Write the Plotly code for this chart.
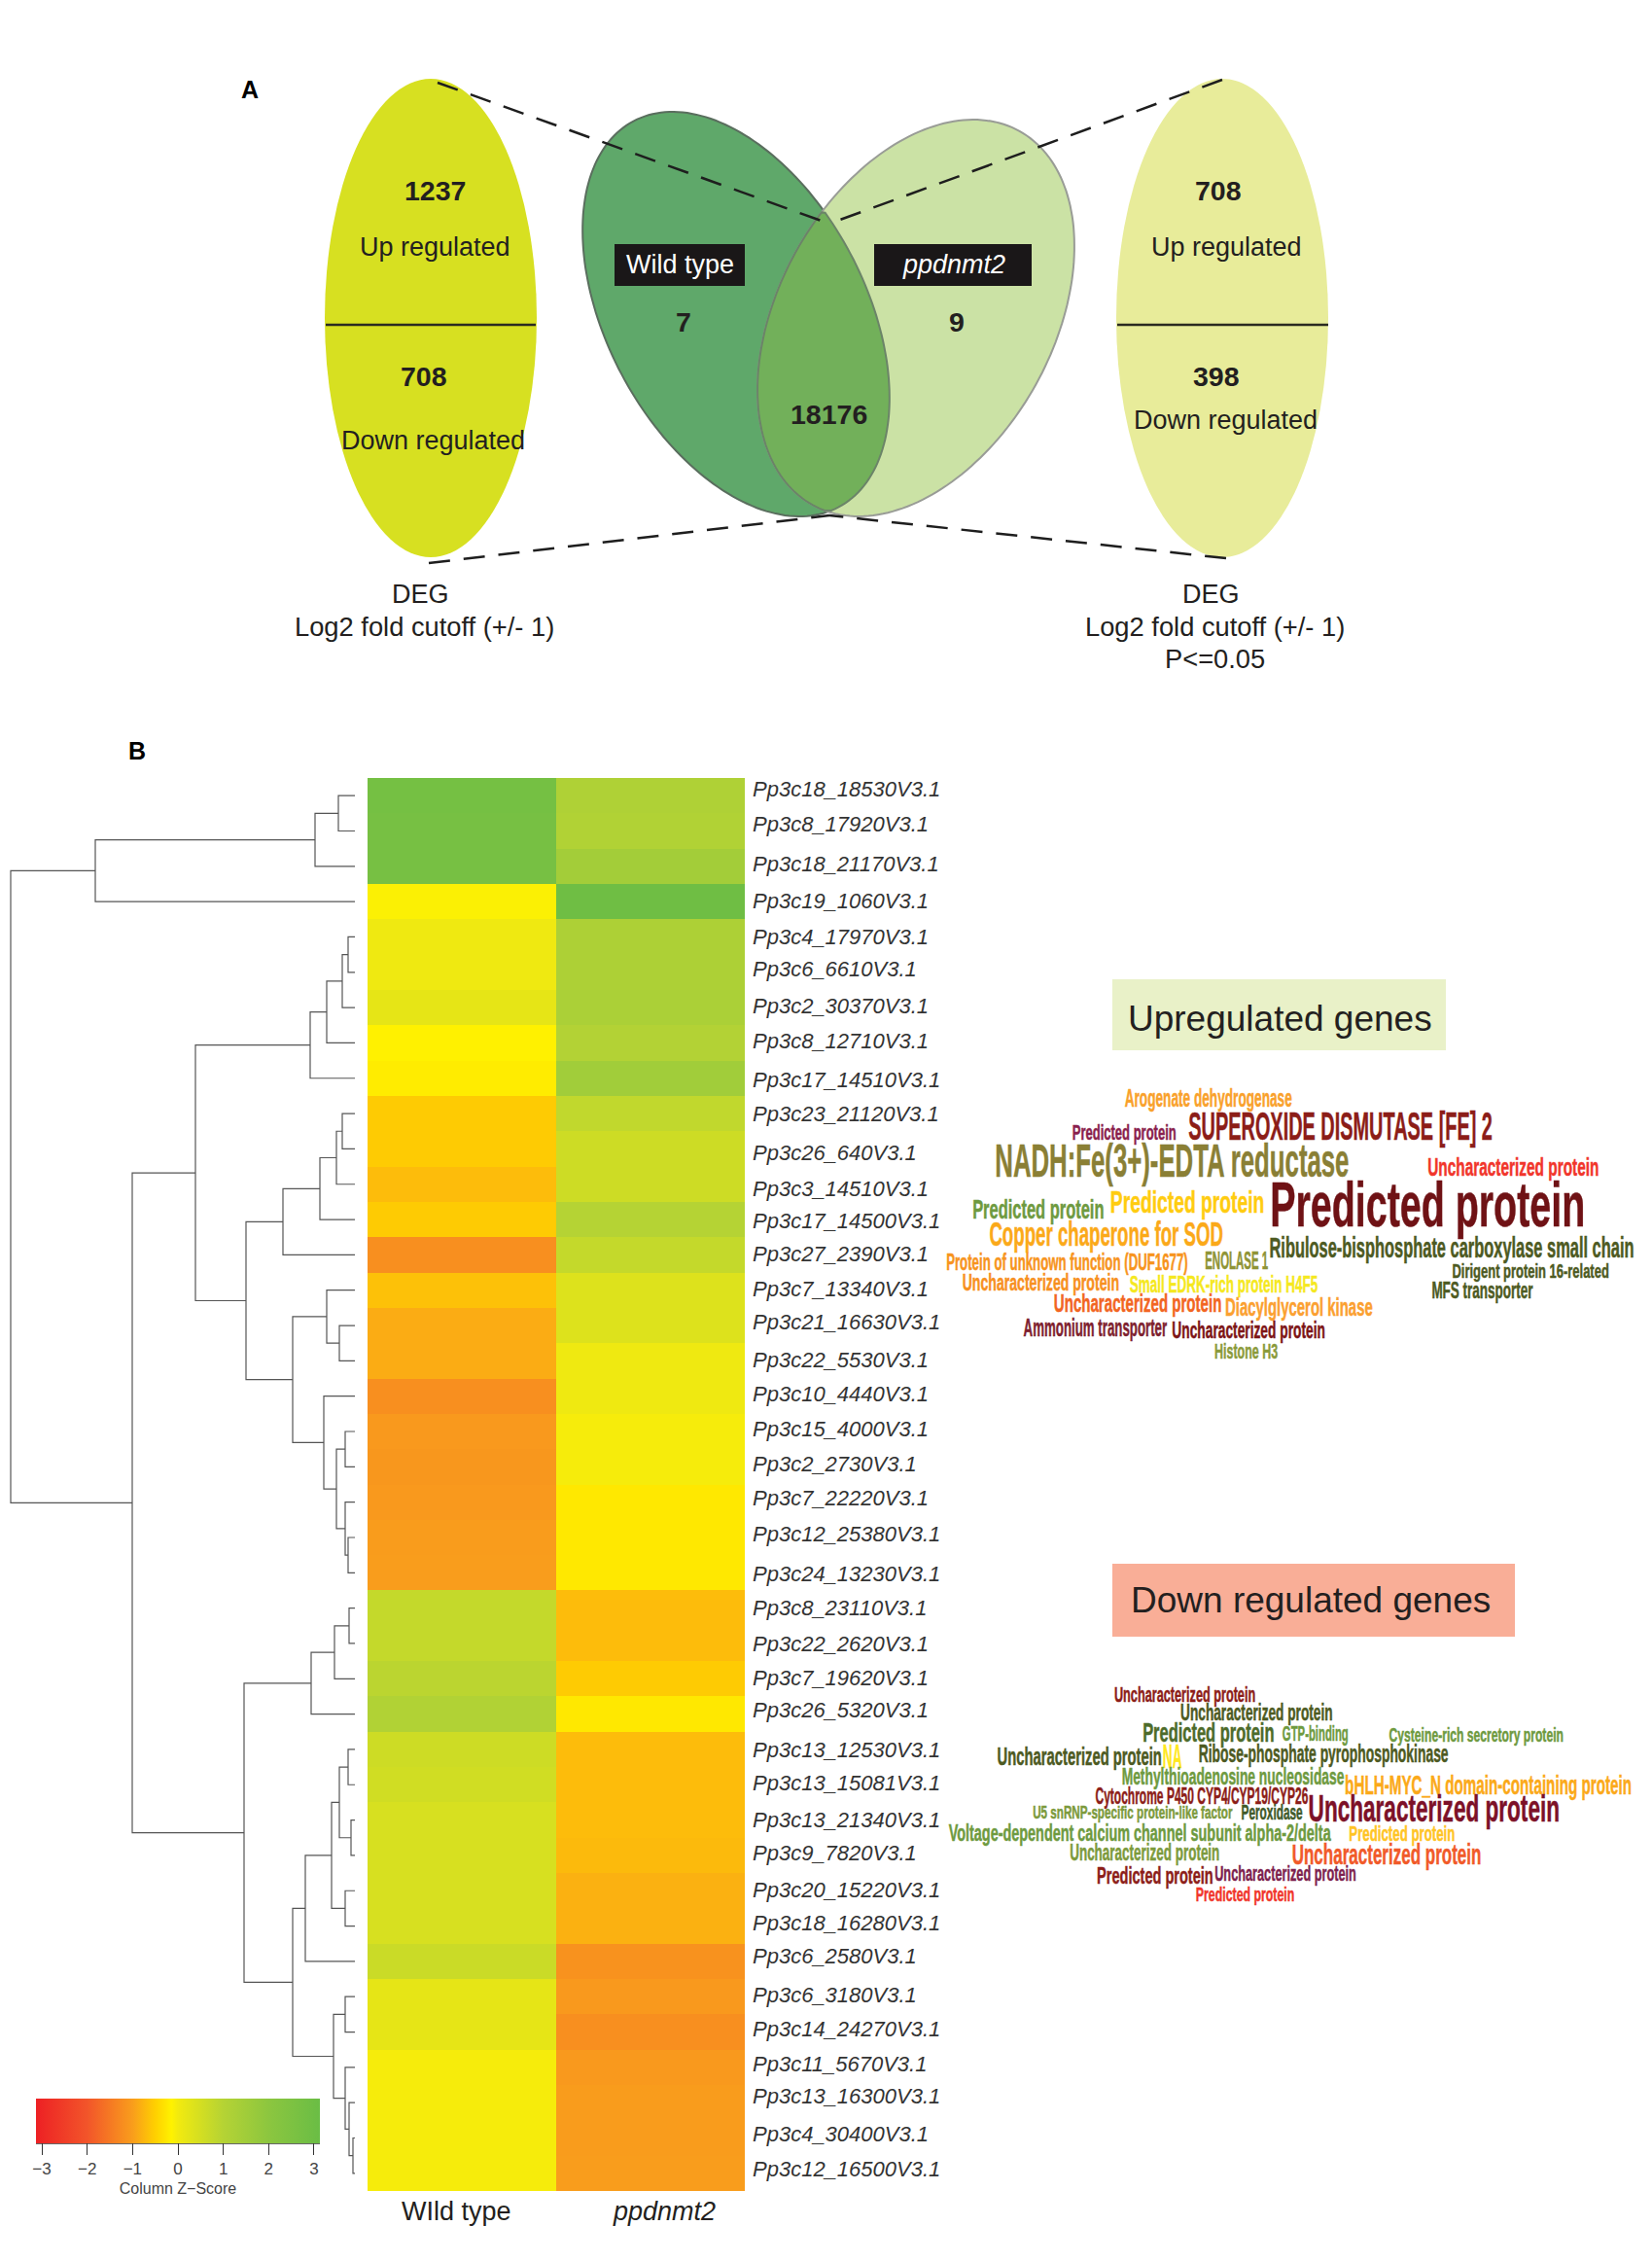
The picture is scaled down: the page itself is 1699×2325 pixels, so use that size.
import json
import numpy as np
import plotly.graph_objects as go

W, H = 1699, 2325

# ---------- data ----------
genes = ["Pp3c18_18530V3.1","Pp3c8_17920V3.1","Pp3c18_21170V3.1","Pp3c19_1060V3.1","Pp3c4_17970V3.1","Pp3c6_6610V3.1",
"Pp3c2_30370V3.1","Pp3c8_12710V3.1","Pp3c17_14510V3.1","Pp3c23_21120V3.1","Pp3c26_640V3.1","Pp3c3_14510V3.1",
"Pp3c17_14500V3.1","Pp3c27_2390V3.1","Pp3c7_13340V3.1","Pp3c21_16630V3.1","Pp3c22_5530V3.1","Pp3c10_4440V3.1",
"Pp3c15_4000V3.1","Pp3c2_2730V3.1","Pp3c7_22220V3.1","Pp3c12_25380V3.1","Pp3c24_13230V3.1","Pp3c8_23110V3.1",
"Pp3c22_2620V3.1","Pp3c7_19620V3.1","Pp3c26_5320V3.1","Pp3c13_12530V3.1","Pp3c13_15081V3.1","Pp3c13_21340V3.1",
"Pp3c9_7820V3.1","Pp3c20_15220V3.1","Pp3c18_16280V3.1","Pp3c6_2580V3.1","Pp3c6_3180V3.1","Pp3c14_24270V3.1",
"Pp3c11_5670V3.1","Pp3c13_16300V3.1","Pp3c4_30400V3.1","Pp3c12_16500V3.1"]
columns = ["WIld type", "ppdnmt2"]
wild_type = [2.75,2.7,2.7,-0.1,0.05,0.05,0.2,-0.15,-0.2,-0.55,-0.55,-0.7,-0.55,-1.2,-0.65,-0.85,-0.85,-1.2,-1.05,-1.08,
             -1.05,-1.02,-1.0,0.75,0.75,0.9,1.1,0.6,0.55,0.45,0.45,0.45,0.45,0.65,0.2,0.2,-0.04,-0.04,-0.04,-0.04]
ppdnmt2 = [1.15,1.1,1.45,2.95,1.2,1.2,1.25,1.05,1.5,0.8,0.6,0.6,1.0,0.75,0.35,0.35,0.05,0.05,-0.04,-0.04,
           -0.25,-0.25,-0.25,-0.7,-0.7,-0.55,-0.25,-0.7,-0.7,-0.7,-0.72,-0.8,-0.8,-1.15,-1.05,-1.2,-1.05,-1.02,-1.02,-1.0]
cb_stops = [(-3.13,"#ED2024"),(-2,"#F2552A"),(-1,"#F99D1C"),(-0.5,"#FFD000"),(-0.14,"#FFF200"),
            (0,"#F2EA0F"),(1,"#B5D334"),(2,"#8CC63F"),(3.13,"#6ABD45")]

# dendrogram as nested (height, child, child); leaves are row numbers
c_a = (267,(41,(17,0,1),2),3)
c1 = (46,(29,(13,(7,4,5),6),7),8)
c21 = (74,(36,(19,(13,9,10),11),12),13)
c221 = (29,14,(16,15,16))
c222 = (32,17,(19,(10,18,19),(10,20,(7,21,22))))
c2 = (112,c21,(64,c221,c222))
d1 = (45,(21,(6,23,24),25),26)
d211 = (24,(16,(7,27,28),(4,29,30)),(10,31,32))
d22 = (22,(10,34,35),(10,36,(6,37,(2,38,39))))
d2 = (64,(51,d211,33),d22)
tree = (354,c_a,(229,(164,c1,c2),(114,d1,d2)))

# panel A counts / labels
venn_left, venn_right, venn_shared = "7", "9", "18176"

up_words = ["Arogenate dehydrogenase","Predicted protein","SUPEROXIDE DISMUTASE [FE] 2","NADH:Fe(3+)-EDTA reductase",
"Uncharacterized protein","Predicted protein","Predicted protein","Predicted protein","Copper chaperone for SOD",
"Ribulose-bisphosphate carboxylase small chain","Protein of unknown function (DUF1677)","ENOLASE 1","Uncharacterized protein",
"Small EDRK-rich protein H4F5","Dirigent protein 16-related","MFS transporter","Uncharacterized protein","Diacylglycerol kinase",
"Ammonium transporter","Uncharacterized protein","Histone H3"]
up_colors = ["#F9A12B","#8A1F4E","#8C1D18","#8A7F35","#F1352B","#6F1215","#6E9A3F","#FFCC10","#FBA919","#4D5A22","#F7941D",
"#8F9436","#F7901E","#F5E81E","#4D5A22","#4D5A22","#F26522","#FBA030","#7E1F2F","#7D1416","#8A9A3A"]
down_words = ["Uncharacterized protein","Uncharacterized protein","Predicted protein","GTP-binding","Cysteine-rich secretory protein",
"Uncharacterized protein","NA","Ribose-phosphate pyrophosphokinase","Methylthioadenosine nucleosidase",
"bHLH-MYC_N domain-containing protein","Cytochrome P450 CYP4/CYP19/CYP26","U5 snRNP-specific protein-like factor","Peroxidase",
"Uncharacterized protein","Voltage-dependent calcium channel subunit alpha-2/delta","Predicted protein","Uncharacterized protein",
"Uncharacterized protein","Predicted protein","Uncharacterized protein","Predicted protein"]
down_colors = ["#8C1D18","#4D5A22","#4D6B2A","#6E9A3F","#6E9A3F","#4D5A22","#FFE81E","#4D5A22","#6E9A3F","#FBA919","#8C1D18",
"#7C9A3C","#3F5A2A","#7D1128","#6E9A3F","#FFC425","#7C9A3C","#F15A29","#8C1D18","#7D1F4E","#F1352B"]

# ---------- layout helpers (pixel placement) ----------
up_boxes = [(417,782,420),(303,530,527),(555,1218,506),(135,907,612),(1078,1452,635),(733,1420,750),(85,372,765),(386,722,742),
(122,632,843),(733,1528,885),(28,555,930),(592,730,925),(63,405,993),(428,838,998),(1130,1472,955),(1087,1308,1015),
(262,628,1058),(636,958,1070),(197,510,1133),(520,854,1143),(612,750,1205)]
down_boxes = [(395,703,457),(538,870,514),(456,743,575),(762,906,580),(994,1374,582),(138,497,648),(499,541,648),(578,1123,640),
(410,895,708),(897,1522,735),(354,818,770),(216,652,820),(670,804,820),(818,1366,808),(33,867,883),(907,1138,885),(298,625,945),
(782,1195,950),(357,611,1015),(612,921,1010),(572,787,1072)]
label_shift = [7,7,2,1,0,3,2,2,-2,0,-4,-5,-1,1,1,4,1,2,3,3,4,3,-1,0,-1,1,4,-1,2,0,2,1,3,5,2,3,3,7,4,4]

fig = go.Figure()

# heatmap
colorscale = [[(v+3.13)/6.26, c] for v, c in cb_stops]
fig.add_trace(go.Heatmap(
    z=[[a, b] for a, b in zip(wild_type, ppdnmt2)], x=columns, y=list(range(len(genes))),
    xaxis="x2", yaxis="y2", zmin=-3.13, zmax=3.13, colorscale=colorscale, hoverongaps=False,
    colorbar=dict(orientation="h", x=37/W, xanchor="left", y=1-2158/H, yanchor="top", xref="container", yref="container",
                  len=292, lenmode="pixels", thickness=46, thicknessmode="pixels", xpad=0, ypad=0,
                  outlinewidth=0, ticks="outside", ticklen=12, tickcolor="#333", tickwidth=1, tickvals=[-3,-2,-1,0,1,2,3],
                  tickfont=dict(family="Liberation Sans", size=17, color="#444"),
                  title=dict(text="Column Z−Score", side="bottom", font=dict(family="Liberation Sans", size=16, color="#444")))))

# dendrogram
dx, dy = [], []
def walk(n):
    if isinstance(n, int):
        return 0, n
    h, a, b = n
    ha, ya = walk(a)
    hb, yb = walk(b)
    dx.extend([ha, h, h, hb, None])
    dy.extend([ya, ya, yb, yb, None])
    return h, (ya + yb) / 2
walk(tree)
fig.add_trace(go.Scatter(x=dx, y=dy, mode="lines", line=dict(color="#555", width=1.2), xaxis="x3", yaxis="y2",
                         hoverinfo="skip", showlegend=False))

# ---------- overlay shapes ----------
def ell_pts(cx, cy, a, b, phi, n=200):
    t = np.linspace(0, 2*np.pi, n, endpoint=False)
    ca, sa = np.cos(phi), np.sin(phi)
    return cx + a*np.cos(t)*sa + b*np.sin(t)*ca, cy + a*np.cos(t)*ca - b*np.sin(t)*sa

def inside(x, y, cx, cy, a, b, phi):
    ca, sa = np.cos(phi), np.sin(phi)
    u = (x-cx)*sa + (y-cy)*ca
    v = (x-cx)*ca - (y-cy)*sa
    return (u/a)**2 + (v/b)**2 <= 1

def path(x, y):
    return "M " + " L ".join(f"{a:.1f},{b:.1f}" for a, b in zip(x, y)) + " Z"

shapes = []
def S(**k):
    shapes.append(dict(xref="x", yref="y", **k))

L = (757, 323, 224.7, 133, np.radians(28))
R = (942, 327, 219.7, 141, np.radians(-29))
S(type="circle", x0=334, x1=552, y0=81, y1=573, fillcolor="#D7E021", line_width=0)
S(type="circle", x0=1148, x1=1366, y0=81, y1=573, fillcolor="#E8EC9A", line_width=0)
S(type="line", x0=335, x1=551, y0=334, y1=334, line=dict(color="#2A2A20", width=2.5))
S(type="line", x0=1149, x1=1366, y0=334, y1=334, line=dict(color="#2A2A20", width=2.5))
lx, ly = ell_pts(*L); rx, ry = ell_pts(*R)
S(type="path", path=path(lx, ly), fillcolor="#5FA86A", line=dict(color="#5A6E5E", width=2))
S(type="path", path=path(rx, ry), fillcolor="#CBE2A5", line=dict(color="#999C96", width=2))
# lens = intersection of the two ellipses
m1 = inside(lx, ly, *R); m2 = inside(rx, ry, *L)
px = np.r_[lx[m1], rx[m2]]; py = np.r_[ly[m1], ry[m2]]
o = np.argsort(np.arctan2(py-py.mean(), px-px.mean()))
S(type="path", path=path(px[o], py[o]), fillcolor="#72B05A", line=dict(color="#6B8468", width=2))
# black label boxes
S(type="rect", x0=632, x1=766, y0=251, y1=294, fillcolor="#1A1718", line_width=0)
S(type="rect", x0=899, x1=1061, y0=251, y1=294, fillcolor="#1A1718", line_width=0)
# dashed connectors
dash = dict(color="#1E1E1E", width=2.5, dash="22px,14px")
S(type="line", x0=450, y0=85, x1=853, y1=230, line=dash)
S(type="line", x0=1257, y0=82, x1=853, y1=230, line=dash)
S(type="line", x0=441, y0=579, x1=853, y1=530, line=dash)
S(type="line", x0=1261, y0=574, x1=853, y1=530, line=dash)
# word-cloud headers
S(type="rect", x0=1144, x1=1487, y0=1007, y1=1080, fillcolor="#E9F1C8", line_width=0)
S(type="rect", x0=1144, x1=1558, y0=1608, y1=1683, fillcolor="#F9AE97", line_width=0)
# colour-bar axis line
S(type="line", x0=37, x1=329, y0=2204, y1=2204, line=dict(color="#333", width=1.5))

# ---------- text ----------
ann = []
def T(x, y, text, size, color="#231F20", family="Liberation Sans", weight="normal", style="normal", anchor="center"):
    ann.append(dict(xref="x", yref="y", x=x, y=y, text=text, showarrow=False, xanchor=anchor, yanchor="middle",
                    font=dict(family=family, size=size, color=color, weight=weight, style=style)))

T(257, 92, "A", 25, "#000", weight="bold"); T(141, 772, "B", 25, "#000", weight="bold")
T(447,196,"1237",28.5,weight="bold"); T(447,254,"Up regulated",27)
T(436,387,"708",28.5,weight="bold"); T(445,453,"Down regulated",27)
T(1253,196,"708",28.5,weight="bold"); T(1261,254,"Up regulated",27)
T(1251,387,"398",28.5,weight="bold"); T(1260,432,"Down regulated",27)
T(699,272,"Wild type",27,"#FFF"); T(981,272,"ppdnmt2",27,"#FFF",style="italic")
T(703,331,venn_left,28.5,weight="bold"); T(984,331,venn_right,28.5,weight="bold"); T(852,426,venn_shared,28.5,weight="bold")
T(432,611,"DEG",27); T(436,644,"Log2 fold cutoff (+/- 1)",27.3)
T(1245,611,"DEG",27); T(1249,644,"Log2 fold cutoff (+/- 1)",27.3); T(1249,677,"P<=0.05",27.3)
T(1316,1047,"Upregulated genes",37); T(1348,1645,"Down regulated genes",37)
T(469,2274,columns[0],27); T(683,2274,columns[1],27,style="italic")

for i, g in enumerate(genes):
    ann.append(dict(xref="x2", yref="y2", x=columns[1], y=i, yshift=label_shift[i], xshift=103, text=g, showarrow=False,
                    xanchor="left", yanchor="middle",
                    font=dict(family="Liberation Sans", size=22, color="#333", style="italic")))

fit = {}
def cloud(words, colors, boxes, y0, fy):
    for w, c, (a, b, yc) in zip(words, colors, boxes):
        x0 = 960 + a/2.12; x1 = 960 + b/2.12
        fit[len(ann)] = x1 - x0
        T((x0+x1)/2, y0 + yc/fy, w, (x1-x0)/(len(w)*0.29), c, weight="bold")
cloud(up_words, up_colors, up_boxes, 990, 3.02)
cloud(down_words, down_colors, down_boxes, 1590, 3.0)

hid = dict(visible=False, showgrid=False, zeroline=False, fixedrange=True)
fig.update_layout(
    width=W, height=H, margin=dict(l=0, r=0, t=0, b=0, autoexpand=False),
    paper_bgcolor="#FFF", plot_bgcolor="rgba(0,0,0,0)", showlegend=False, shapes=shapes, annotations=ann,
    xaxis=dict(hid, range=[0, W], domain=[0, 1]),
    yaxis=dict(hid, range=[H, 0], domain=[0, 1]),
    xaxis2=dict(hid, domain=[378/W, 766/W], anchor="y2", range=[-0.5, 1.5], type="category"),
    yaxis2=dict(hid, domain=[1-2253/H, 1-800/H], range=[39.5, -0.5], anchor="x2"),
    xaxis3=dict(hid, domain=[0, 365/W], range=[365, 0], anchor="y2"),
)
# keep the overlay axes alive for shapes/annotations
fig.add_trace(go.Scatter(x=[0], y=[0], mode="markers", marker=dict(opacity=0), xaxis="x", yaxis="y", hoverinfo="skip"))

# word-cloud lettering in the reference is a condensed face: squeeze each word to its measured width
post = """
document.body.style.margin='0';
var fit = %s;
document.querySelectorAll('g.annotation').forEach(function(g){
  var w = fit[g.getAttribute('data-index')];
  if(!w) return;
  var t = g.querySelector('text');
  var b = t.getBBox(), cx = b.x + b.width/2;
  t.style.stroke = t.style.fill;
  t.style.strokeWidth = '0.5px';
  t.setAttribute('transform','translate('+cx+',0) scale('+(w/b.width)+',1) translate('+(-cx)+',0)');
});
""" % json.dumps(fit)
fig.write_html("out.html", post_script=post, config={"displayModeBar": False})
